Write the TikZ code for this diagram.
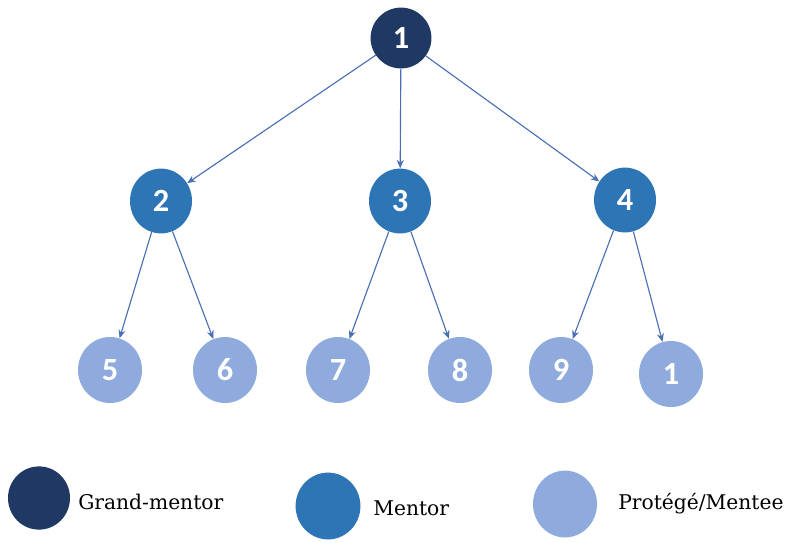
\documentclass[tikz,border=0pt]{standalone}
\usepackage{fontspec}
\setmainfont{DejaVu Serif}
\newfontfamily\numfont{Carlito}
\usetikzlibrary{arrows.meta,shapes.geometric}
\definecolor{grandblue}{RGB}{31,56,100}
\definecolor{mentorblue}{RGB}{46,117,182}
\definecolor{menteeblue}{RGB}{143,170,220}
\definecolor{linkblue}{RGB}{72,110,180}

\begin{document}
\begin{tikzpicture}[x=0.025cm,y=-0.025cm,
  person/.style={ellipse,inner sep=0pt,text=white,
    font=\numfont\bfseries\fontsize{23}{23}\selectfont},
  grand/.style={person,fill=grandblue,minimum width=1.52cm,minimum height=1.52cm},
  mentor/.style={person,fill=mentorblue,minimum width=1.55cm,minimum height=1.62cm},
  mentee/.style={person,fill=menteeblue,minimum width=1.6cm,minimum height=1.65cm},
  link/.style={draw=linkblue,line width=0.8pt,-{Stealth[length=6pt,width=5pt]}},
  legend/.style={anchor=west,inner sep=0pt,font=\fontsize{14.4}{14.4}\selectfont}]
\useasboundingbox (0,0) rectangle (794,542);
% tree
\node[grand] (n1) at (401,38) {1};
\node[mentor] (n2) at (161,201) {2};
\node[mentor] (n3) at (400,201) {3};
\node[mentor] (n4) at (625,200) {4};
\node[mentee] (n5) at (110,370) {5};
\node[mentee] (n6) at (225,370) {6};
\node[mentee] (n7) at (338,370) {7};
\node[mentee] (n8) at (460,370) {8};
\node[mentee] (n9) at (561,370) {9};
\node[mentee] (n10) at (671,374) {1};
\foreach \p/\c in {n1/n2,n1/n3,n1/n4,n2/n5,n2/n6,n3/n7,n3/n8,n4/n9,n4/n10}
  \draw[link] (\p) -- (\c);
% legend
\node[grand,minimum width=1.55cm,minimum height=1.58cm] (kgrand) at (39,498) {};
\node[mentor,minimum width=1.62cm,minimum height=1.67cm] (kmentor) at (328,506) {};
\node[mentee,minimum width=1.6cm,minimum height=1.67cm] (kmentee) at (565,504) {};
\node[legend] (tgrand) at (78,502) {Grand-mentor};
\node[legend] (tmentor) at (373,508) {Mentor};
\node[legend] (tmentee) at (618,504) {Protégé/Mentee};
\end{tikzpicture}
\end{document}
